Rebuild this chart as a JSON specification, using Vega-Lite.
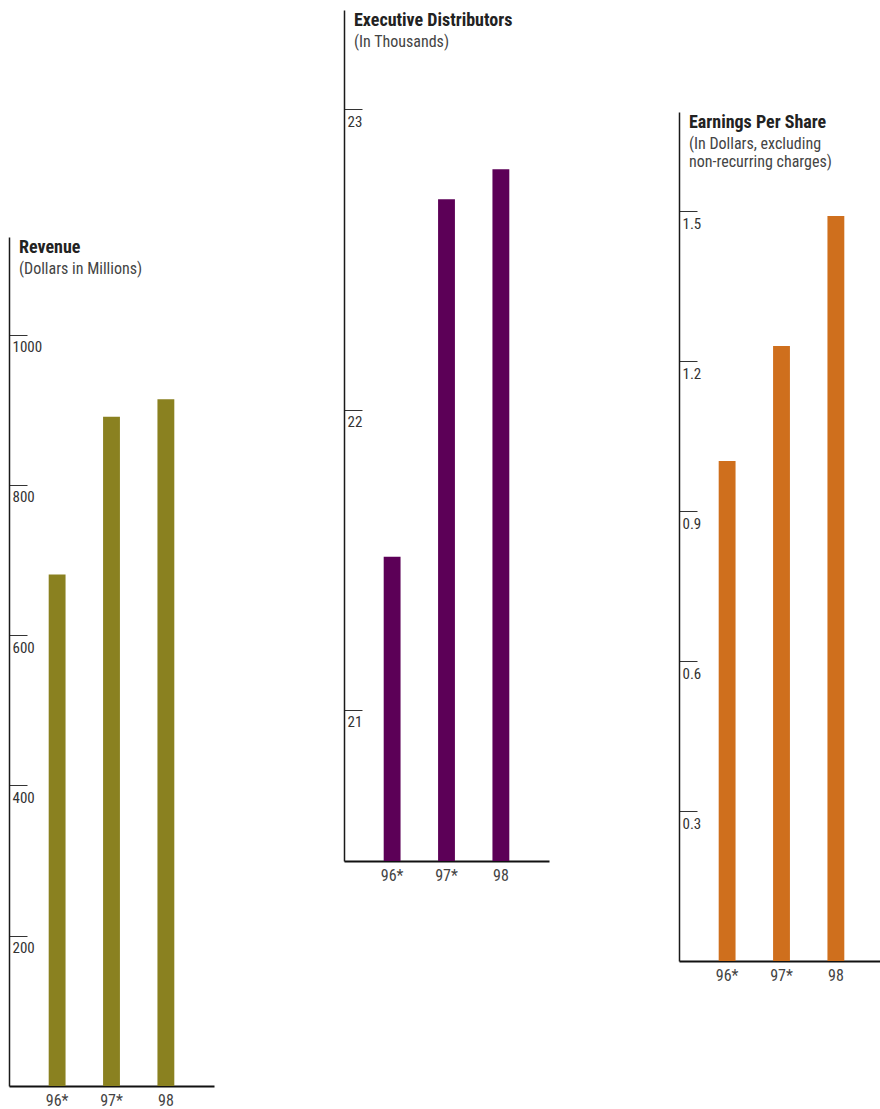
{
  "$schema": "https://vega.github.io/schema/vega-lite/v6.json",
  "padding": {"left": 8, "top": 10, "right": 0, "bottom": 0},
  "autosize": {"type": "pad"},
  "config": {
    "view": {"stroke": null},
    "font": "Roboto Condensed, sans-serif",
    "axisY": {
      "orient": "left", "grid": false, "title": null,
      "domainColor": "#1a1a1a", "domainWidth": 1.5,
      "tickSize": -18, "tickColor": "#333333", "tickWidth": 1,
      "labelAlign": "left", "labelBaseline": "top", "labelPadding": 15, "labelOffset": 5,
      "labelFontSize": 15, "labelColor": "#333333", "labelFont": "Roboto Condensed, sans-serif"
    },
    "axisX": {
      "grid": false, "title": null, "ticks": false, "labelAngle": 0,
      "domainColor": "#111111", "domainWidth": 2,
      "labelPadding": 6, "labelFontSize": 16, "labelColor": "#444444", "labelFont": "Roboto Condensed, sans-serif"
    },
    "title": {
      "anchor": "start", "frame": "group", "dx": 10,
      "font": "Roboto Condensed, sans-serif",
      "fontSize": 18, "fontWeight": "bold", "color": "#222222",
      "subtitleFont": "Roboto Condensed, sans-serif",
      "subtitleFontSize": 16, "subtitleColor": "#444444", "subtitlePadding": 4, "subtitleLineHeight": 18
    }
  },
  "datasets": {
    "revenue": [
      {"year": "96*", "value": 681},
      {"year": "97*", "value": 891},
      {"year": "98", "value": 914}
    ],
    "distributors": [
      {"year": "96*", "value": 21.51},
      {"year": "97*", "value": 22.70},
      {"year": "98", "value": 22.80}
    ],
    "eps": [
      {"year": "96*", "value": 1.00},
      {"year": "97*", "value": 1.23},
      {"year": "98", "value": 1.49}
    ]
  },
  "hconcat": [
    {
      "spacing": 0,
      "vconcat": [
        {"width": 205, "height": 227, "data": {"values": [{}]}, "mark": {"type": "point", "opacity": 0}},
        {
          "width": 205, "height": 849,
          "data": {"name": "revenue"},
          "title": {"text": "Revenue", "subtitle": "(Dollars in Millions)", "offset": -40},
          "mark": {"type": "bar", "color": "#8a8120"},
          "encoding": {
            "x": {"field": "year", "type": "nominal", "sort": null,
                  "scale": {"paddingInner": 0.69, "paddingOuter": 0.73}},
            "y": {"field": "value", "type": "quantitative",
                  "scale": {"domain": [0, 1130.1], "nice": false, "zero": false},
                  "axis": {"values": [200, 400, 600, 800, 1000], "format": "d"}}
          }
        }
      ]
    },
    {
      "spacing": 0,
      "vconcat": [
        {
          "width": 205, "height": 851,
          "data": {"name": "distributors"},
          "title": {"text": "Executive Distributors", "subtitle": "(In Thousands)", "offset": -40},
          "mark": {"type": "bar", "color": "#5c0057"},
          "encoding": {
            "x": {"field": "year", "type": "nominal", "sort": null,
                  "scale": {"paddingInner": 0.69, "paddingOuter": 0.73}},
            "y": {"field": "value", "type": "quantitative",
                  "scale": {"domain": [20.497, 23.33], "nice": false, "zero": false},
                  "axis": {"values": [21, 22, 23], "format": "d"}},
            "y2": {"datum": 20.497}
          }
        }
      ]
    },
    {
      "spacing": 0,
      "vconcat": [
        {"width": 205, "height": 102, "data": {"values": [{}]}, "mark": {"type": "point", "opacity": 0}},
        {
          "width": 205, "height": 849,
          "data": {"name": "eps"},
          "title": {"text": "Earnings Per Share", "subtitle": ["(In Dollars, excluding", "non-recurring charges)"], "offset": -58},
          "mark": {"type": "bar", "color": "#cf6f1d"},
          "encoding": {
            "x": {"field": "year", "type": "nominal", "sort": null,
                  "scale": {"paddingInner": 0.69, "paddingOuter": 0.73}},
            "y": {"field": "value", "type": "quantitative",
                  "scale": {"domain": [0, 1.698], "nice": false, "zero": false},
                  "axis": {"values": [0.3, 0.6, 0.9, 1.2, 1.5], "format": ".1f"}}
          }
        }
      ]
    }
  ],
  "spacing": 129
}
